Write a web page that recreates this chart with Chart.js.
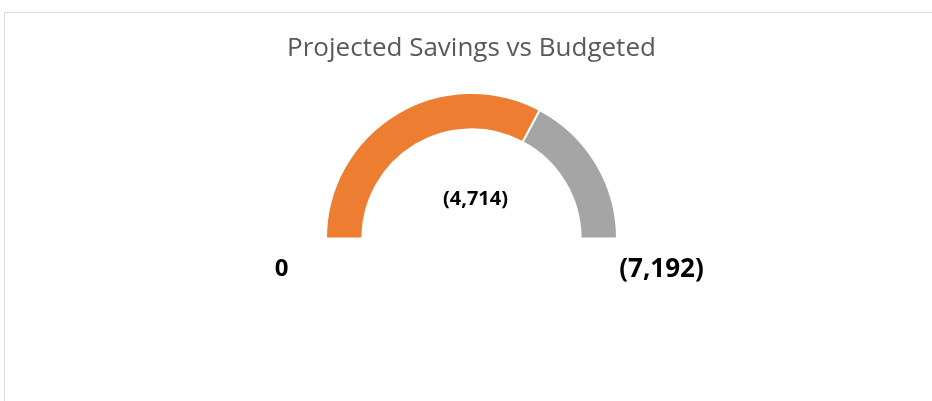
<!DOCTYPE html>
<html>
<head>
<meta charset="utf-8">
<script src="https://cdn.jsdelivr.net/npm/chart.js@4"></script>
<style>
  html, body { margin: 0; padding: 0; background: #fff; }
  #wrap { position: relative; width: 932px; height: 401px; overflow: hidden; }
  #frame { position: absolute; left: 4px; top: 12px; width: 1000px; height: 500px;
           border: 1px solid #d9d9d9; box-sizing: border-box; }
  #box { position: absolute; left: 0; top: 0; width: 932px; height: 401px; }
</style>
</head>
<body>
<div id="wrap">
  <div id="frame"></div>
  <div id="box"><canvas id="gauge"></canvas></div>
</div>
<script>
const categories = ['Projected Savings', 'Remaining Budget'];
const projected = 4714;
const budgeted = 7192;
const values = [projected, budgeted - projected];
const colors = ['#ED7D31', '#A5A5A5'];
const minLabel = '0';
const maxLabel = '(7,192)';
const valueLabel = '(4,714)';

// draws the 0 / max / value texts around the gauge
const gaugeLabels = {
    id: 'gaugeLabels',
    afterDraw(chart) {
        const arc = chart.getDatasetMeta(0).data[0];
        if (!arc) return;
        const ctx = chart.ctx;
        const cx = arc.x, cy = arc.y;
        ctx.save();
        ctx.fillStyle = '#000';
        ctx.textAlign = 'center';
        ctx.textBaseline = 'middle';
        ctx.font = 'bold 24px "Open Sans"';
        ctx.fillText(minLabel, cx - 190, cy + 31);
        ctx.font = 'bold 26px "Open Sans"';
        ctx.fillText(maxLabel, cx + 190, cy + 31);
        ctx.font = 'bold 20px "Open Sans"';
        ctx.fillText(valueLabel, cx + 4, cy - 39);
        ctx.restore();
    }
};

const data = {
    labels: categories,
    datasets: [{
        data: values,
        backgroundColor: colors,
        borderColor: '#fff',
        borderWidth: 2,
        hoverOffset: 0
    }]
};
const config = {
    type: 'doughnut',
    data: data,
    options: {
        responsive: true,
        maintainAspectRatio: false,
        animation: false,
        rotation: -90,
        circumference: 180,
        cutout: '75%',
        // wide area, so the half ring is sized by its height
        layout: {
            padding: { left: 11, right: 0, top: 0, bottom: 161.5 }
        },
        plugins: {
            legend: { display: false },
            tooltip: { enabled: false },
            title: {
                display: true,
                text: 'Projected Savings vs Budgeted',
                color: '#595959',
                font: { family: '"Open Sans"', size: 26, weight: 400 },
                padding: { top: 33, bottom: 27.8 }
            }
        }
    },
    plugins: [gaugeLabels]
};
const myChart = new Chart(document.getElementById('gauge'), config);
</script>
</body>
</html>
